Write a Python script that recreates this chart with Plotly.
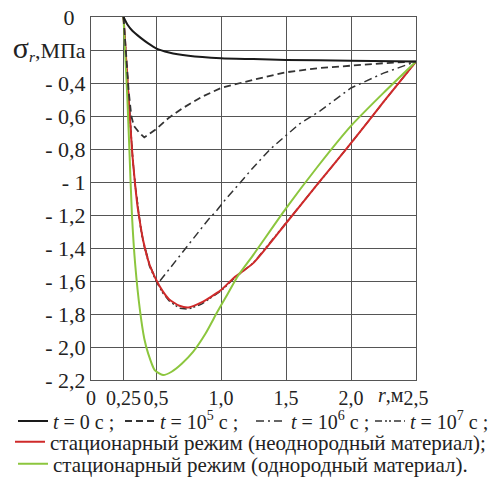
import plotly.graph_objects as go

# ---------------- data ----------------
r_t0 = [0.25, 0.28, 0.32, 0.38, 0.44, 0.5, 0.6, 0.75, 1.0, 1.25, 1.5, 2.0, 2.5]
s_t0 = [0, -0.045, -0.085, -0.125, -0.16, -0.19, -0.215, -0.235, -0.25, -0.255, -0.26, -0.265, -0.27]

r_t5 = [0.25, 0.27, 0.29, 0.31, 0.33, 0.37, 0.41, 0.5, 0.6, 0.7, 0.85, 1.0, 1.25, 1.5, 1.75, 2.0, 2.25, 2.5]
s_t5 = [0, -0.22, -0.45, -0.6, -0.66, -0.70, -0.73, -0.68, -0.61, -0.555, -0.485, -0.43, -0.38, -0.335, -0.31, -0.295, -0.28, -0.27]

r_t6 = [0.25, 0.26, 0.27, 0.28, 0.29, 0.30, 0.31, 0.32, 0.34, 0.36, 0.38, 0.40, 0.45, 0.5, 0.53, 0.6, 0.7, 0.8, 0.9, 0.97, 1.03, 1.13, 1.25, 1.38, 1.5, 1.6, 1.76, 1.9, 2.0, 2.25, 2.5]
s_t6 = [0, -0.12, -0.25, -0.37, -0.5, -0.62, -0.74, -0.85, -1.02, -1.16, -1.26, -1.35, -1.5, -1.59, -1.60, -1.53, -1.43, -1.33, -1.23, -1.17, -1.11, -1.02, -0.91, -0.80, -0.72, -0.65, -0.57, -0.49, -0.43, -0.34, -0.27]

r_t7 = [0.25, 0.26, 0.27, 0.28, 0.29, 0.30, 0.31, 0.32, 0.34, 0.36, 0.38, 0.40, 0.45, 0.5, 0.55, 0.6, 0.68, 0.75, 0.85, 1.0, 1.1, 1.25, 1.5, 1.75, 2.0, 2.25, 2.5]
s_t7 = [0, -0.12, -0.25, -0.37, -0.5, -0.62, -0.74, -0.85, -1.02, -1.16, -1.27, -1.36, -1.51, -1.60, -1.67, -1.72, -1.765, -1.77, -1.74, -1.66, -1.585, -1.49, -1.25, -1.005, -0.765, -0.515, -0.27]

r_red = [0.25, 0.26, 0.27, 0.28, 0.29, 0.30, 0.31, 0.32, 0.34, 0.36, 0.38, 0.40, 0.45, 0.5, 0.55, 0.6, 0.68, 0.75, 0.85, 1.0, 1.1, 1.25, 1.5, 1.75, 2.0, 2.25, 2.5]
s_red = [0, -0.12, -0.25, -0.37, -0.5, -0.62, -0.74, -0.85, -1.02, -1.16, -1.26, -1.35, -1.5, -1.59, -1.66, -1.71, -1.75, -1.76, -1.73, -1.655, -1.58, -1.49, -1.25, -1.005, -0.765, -0.515, -0.27]

r_green = [0.25, 0.265, 0.28, 0.295, 0.315, 0.34, 0.377, 0.41, 0.44, 0.49, 0.554, 0.62, 0.7, 0.785, 0.88, 0.97, 1.05, 1.13, 1.25, 1.5, 1.75, 2.0, 2.25, 2.5]
s_green = [0, -0.25, -0.5, -0.8, -1.2, -1.5, -1.78, -1.95, -2.04, -2.14, -2.17, -2.15, -2.1, -2.03, -1.92, -1.79, -1.68, -1.57, -1.44, -1.16, -0.9, -0.66, -0.46, -0.27]

x_tickvals = [0, 0.25, 0.5, 1.0, 1.5, 2.0, 2.5]
x_ticktext = ["0", "0,25", "0,5", "1,0", "1,5", "2,0", "2,5"]
y_tickvals = [0, -0.2, -0.4, -0.6, -0.8, -1.0, -1.2, -1.4, -1.6, -1.8, -2.0, -2.2]
y_ticktext = ["0&nbsp;&nbsp;", "<span style='font-size:30px'>σ</span><sub><i>r</i></sub>,МПа",
              "- 0,4", "- 0,6", "- 0,8", "- 1", "- 1,2", "- 1,4", "- 1,6", "- 1,8", "- 2,0", "- 2,2"]

names = ["<i>t</i> = 0 с ;", "<i>t</i> = 10<sup>5</sup> с ;", "<i>t</i> = 10<sup>6</sup> с ;",
         "<i>t</i> = 10<sup>7</sup> с ;",
         "стационарный режим (неоднородный материал);",
         "стационарный режим (однородный материал)."]

FONT = "Liberation Serif, Times New Roman, serif"
TXT = "#222222"

fig = go.Figure()
# drawn underneath
fig.add_trace(go.Scatter(x=r_t6, y=s_t6, mode="lines", name=names[2], legend="legend4",
                         line=dict(color="#333333", width=1.5, dash="8px,4px,2px,4px")))
fig.add_trace(go.Scatter(x=r_t7, y=s_t7, mode="lines", name=names[3], legend="legend5",
                         line=dict(color="#333333", width=1.5, dash="7px,3px,2px,2px,2px,3px")))
fig.add_trace(go.Scatter(x=r_red, y=s_red, mode="lines", name=names[4], legend="legend6",
                         line=dict(color="#cf2a2a", width=2, shape="spline", smoothing=0.6)))
fig.add_trace(go.Scatter(x=r_green, y=s_green, mode="lines", name=names[5], legend="legend7",
                         line=dict(color="#8cc63e", width=2, shape="spline", smoothing=0.6)))
fig.add_trace(go.Scatter(x=r_t5, y=s_t5, mode="lines", name=names[1], legend="legend3",
                         line=dict(color="#333333", width=1.8, dash="7px,4px")))
fig.add_trace(go.Scatter(x=r_t0, y=s_t0, mode="lines", name=names[0], legend="legend2",
                         line=dict(color="#1a1a1a", width=2, shape="spline", smoothing=0.6)))

# plot area: px 91..416 horizontally, 17..380 vertically
def lx(px):
    return (px - 91) / 325.0

def ly(py):
    return (380 - py) / 363.0

def leg(px, py, size):
    return dict(orientation="h", x=lx(px), xanchor="left", y=ly(py), yanchor="middle",
                font=dict(family=FONT, size=size, color=TXT), itemwidth=30,
                bgcolor="rgba(0,0,0,0)", borderwidth=0, visible=True)

axis_common = dict(showgrid=True, gridcolor="#555555", gridwidth=1, zeroline=False,
                   showline=True, linecolor="#555555", linewidth=1, mirror=True, ticks="",
                   tickmode="array", tickangle=0)

fig.update_layout(
    width=497, height=479, autosize=False, showlegend=True,
    margin=dict(l=91, r=81, t=17, b=99, autoexpand=False),
    paper_bgcolor="white", plot_bgcolor="white",
    font=dict(family=FONT, size=20, color=TXT),
    xaxis=dict(range=[0, 2.5], tickvals=x_tickvals, ticktext=x_ticktext,
               tickfont=dict(family=FONT, size=20, color=TXT), **axis_common),
    yaxis=dict(range=[-2.2, 0], tickvals=y_tickvals, ticktext=y_ticktext,
               tickfont=dict(family=FONT, size=22, color=TXT), **axis_common),
    legend2=leg(13, 421, 20),
    legend3=leg(120, 421, 20),
    legend4=leg(251, 421, 20),
    legend5=leg(370, 421, 20),
    legend6=leg(10, 442, 21),
    legend7=leg(13, 464, 21),
    annotations=[dict(x=2.305, y=0, xref="x", yref="paper", yanchor="top", yshift=-2,
                      text="<i>r</i>,м", showarrow=False,
                      font=dict(family=FONT, size=20, color=TXT))],
)

fig.write_html("out.html")
